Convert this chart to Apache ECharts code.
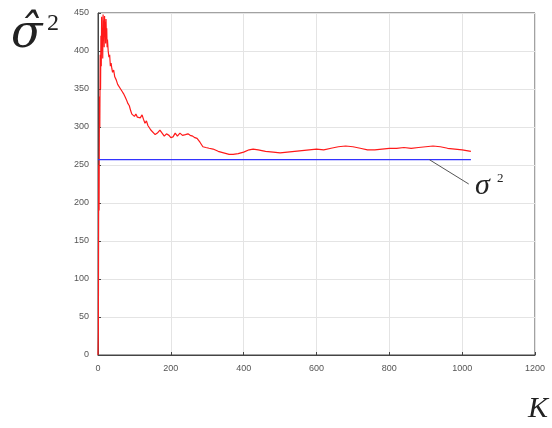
<!DOCTYPE html>
<html><head><meta charset="utf-8">
<script src="https://cdn.jsdelivr.net/npm/echarts@6/dist/echarts.min.js"></script>
<style>html,body{margin:0;padding:0;background:#fff}#c{width:552px;height:428px}</style>
</head><body><div id="c"></div>
<script>
// Data
const xTicks = [0, 200, 400, 600, 800, 1000, 1200];
const yTicks = [0, 50, 100, 150, 200, 250, 300, 350, 400, 450];
const estK = [0,1,2,3,4,5,6,7,8,9,10,11,12,13,14,15,16,17,18,19,20,21,22,23,24,25,26,28,30,32,34,36,38,40,43,46,50,54,58,62,66,70,74,78,82,86,90,93,96,100,104,108,112,116,121,125,129,133,137,141,145,150,157,163,170,176,182,188,195,200,206,212,218,225,232,240,247,253,260,266,272,280,288,296,305,316,330,345,360,371,385,400,415,426,440,460,481,500,520,540,560,580,600,620,640,660,680,700,720,740,760,780,800,820,840,860,880,900,920,940,960,980,1000,1024];
const estVar = [0,30,250,190,340,300,395,350,420,380,445,400,430,390,448,415,440,405,446,425,438,410,442,420,430,405,415,400,392,395,380,384,377,372,375,366,362,356,358,350,347,344,340,336,331,328,321,317,319,314,317,313,315,312,316,310,305,308,302,300,296,298,290,292,296,292,288,291,289,286,287,292,288,292,289,290,291,289,288,286,285,280,274,273,272,271,268,266,264,264,265,267,270,271,270,268,267,266,267,268,269,270,271,270,272,274,275,274,272,270,270,271,272,272,273,272,273,274,275,274,272,271,270,268];
const trueK = [0, 1024];
const trueVar = [257, 257];

const chart = echarts.init(document.getElementById('c'), null, {renderer: 'canvas'});
const gray = '#555';
chart.setOption({
  animation: false,
  backgroundColor: '#fff',
  grid: {left: 98, right: 17, top: 13, bottom: 73, show: true, borderColor: '#444', borderWidth: 1},
  xAxis: {
    type: 'value', min: 0, max: 1200, interval: 200,
    axisLine: {show: true, onZero: false, lineStyle: {color: '#444'}},
    axisTick: {show: true, inside: true, length: 3, lineStyle: {color: '#444'}},
    axisLabel: {color: gray, fontSize: 9, fontFamily: 'Liberation Sans', margin: 9, formatter: v => String(v)},
    splitLine: {show: true, lineStyle: {color: '#e4e4e4'}}
  },
  yAxis: {
    type: 'value', min: 0, max: 450, interval: 50,
    axisLine: {show: true, lineStyle: {color: '#444'}},
    axisTick: {show: true, inside: true, length: 3, lineStyle: {color: '#444'}},
    axisLabel: {color: gray, fontSize: 9, fontFamily: 'Liberation Sans', margin: 9, formatter: v => String(v)},
    splitLine: {show: true, lineStyle: {color: '#e4e4e4'}}
  },
  series: [
    {type: 'line', name: 'est', showSymbol: false, symbol: 'none',
     data: estK.map((k, i) => [k, estVar[i]]),
     lineStyle: {color: '#ff1a1a', width: 1.2}, z: 3},
    {type: 'line', name: 'true', showSymbol: false, symbol: 'none',
     data: trueK.map((k, i) => [k, trueVar[i]]),
     lineStyle: {color: '#3333ff', width: 1.2}, z: 4},
    {type: 'line', name: 'leader', showSymbol: false, symbol: 'none',
     data: [[910, 257], [1018, 225]],
     lineStyle: {color: '#555', width: 1}, z: 5}
  ],
  graphic: [
    {type: 'text', left: 11, top: 12, style: {text: 'σ̂', font: 'italic 46px "DejaVu Serif"', fill: '#222'}},
    {type: 'text', left: 47, top: 12, style: {text: '2', font: '24px "Liberation Serif"', fill: '#222'}},
    {type: 'text', left: 528, top: 394, style: {text: 'K', font: 'italic 30px "Liberation Serif"', fill: '#222'}},
    {type: 'text', left: 475, top: 171, style: {text: 'σ', font: 'italic 30px "Liberation Serif"', fill: '#222'}},
    {type: 'text', left: 497, top: 172, style: {text: '2', font: '13px "Liberation Serif"', fill: '#222'}}
  ]
});
</script></body></html>
